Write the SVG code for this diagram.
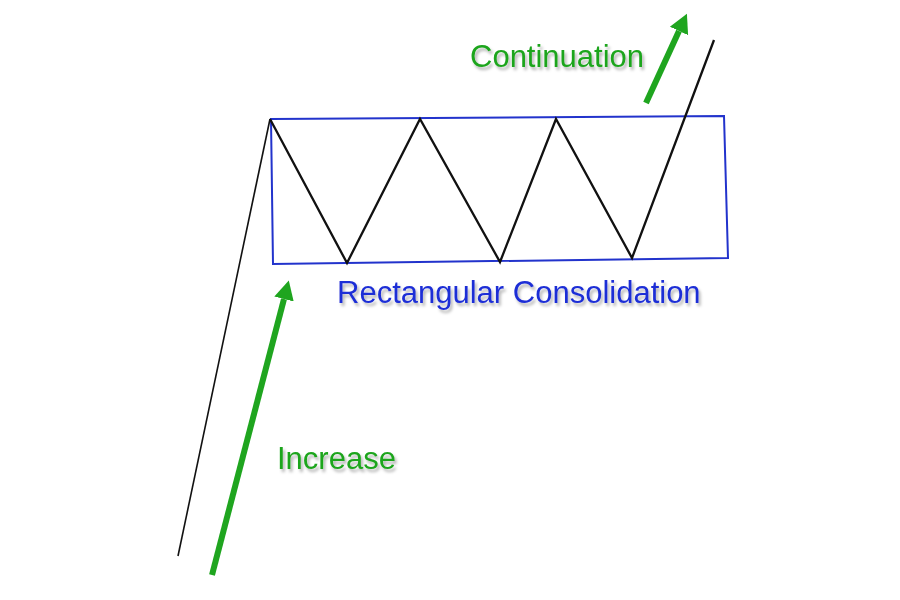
<svg xmlns="http://www.w3.org/2000/svg" width="900" height="600" viewBox="0 0 900 600">
  <style>
    .lbl { font-family: "Liberation Sans", Arial, sans-serif; font-size: 31px; filter: url(#shadow); }
    .green { fill: #1fa51f; }
    .blue { fill: #1f2fd6; }
    .price { fill: none; stroke: #111; stroke-width: 2.3; stroke-linejoin: miter; }
    .leg { fill: none; stroke: #111; stroke-width: 1.6; }
    .box { fill: none; stroke: #2233cc; stroke-width: 2; }
    .arrow { stroke: #1fa51f; stroke-width: 6; fill: none; marker-end: url(#ah); }
  </style>
  <defs>
    <filter id="shadow" x="-10%" y="-30%" width="120%" height="160%">
      <feDropShadow dx="2" dy="3" stdDeviation="1.5" flood-color="#000" flood-opacity="0.3"/>
    </filter>
    <marker id="ah" markerUnits="userSpaceOnUse" markerWidth="20" markerHeight="22" viewBox="0 -11 20 22" refX="0" refY="0" orient="auto">
      <path d="M0,-10 L19,0 L0,10 z" fill="#1fa51f"/>
    </marker>
  </defs>
  <rect width="900" height="600" fill="#ffffff"/>

  <g id="consolidation-box">
    <polygon class="box" points="271,119 724,116 728,258 273,264"/>
  </g>

  <g id="price-line">
    <line class="leg" x1="178" y1="556" x2="270" y2="119"/>
    <polyline class="price" points="270,119 347,263 420,119 500,262 556,119 632,258 714,40"/>
  </g>

  <g id="connectors">
    <line class="arrow" x1="212" y1="575" x2="284" y2="299"/>
    <line class="arrow" x1="646" y1="103" x2="679" y2="31"/>
  </g>

  <g id="label-continuation">
    <text class="lbl green" x="470" y="67">Continuation</text>
  </g>
  <g id="label-rectangular">
    <text class="lbl blue" x="337" y="303">Rectangular Consolidation</text>
  </g>
  <g id="label-increase">
    <text class="lbl green" x="277" y="469">Increase</text>
  </g>
</svg>
